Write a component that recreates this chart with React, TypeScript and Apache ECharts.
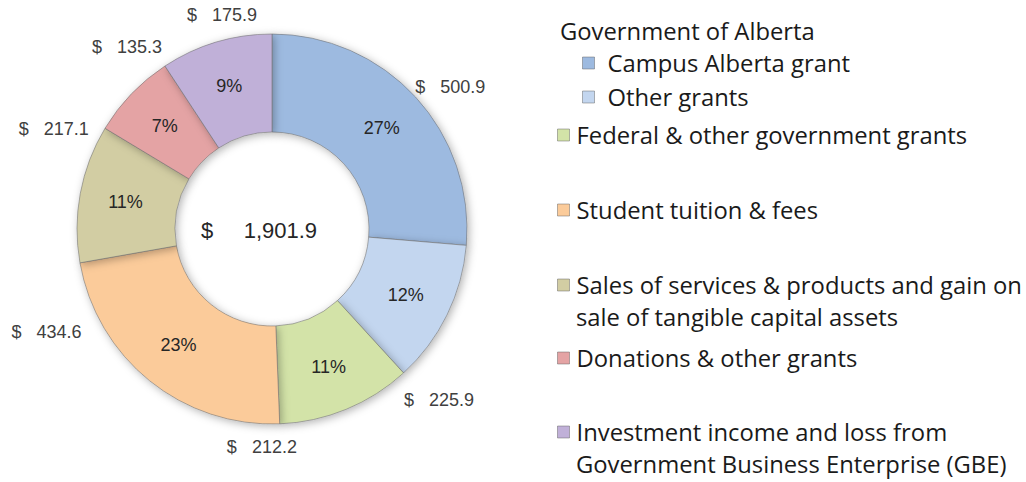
import React, { useEffect, useRef } from "react";
import * as echarts from "echarts";

const categories = [
  "Campus Alberta grant",
  "Other grants",
  "Federal & other government grants",
  "Student tuition & fees",
  "Sales of services & products and gain on sale of tangible capital assets",
  "Donations & other grants",
  "Investment income and loss from Government Business Enterprise (GBE)",
];
const legendFirstLines = [
  "Campus Alberta grant",
  "Other grants",
  "Federal & other government grants",
  "Student tuition & fees",
  "Sales of services & products and gain on",
  "Donations & other grants",
  "Investment income and loss from",
];
const legendSecondLines = ["", "", "", "", "sale of tangible capital assets", "", "Government Business Enterprise (GBE)"];
const values = [500.9, 225.9, 212.2, 434.6, 217.1, 135.3, 175.9];
const percentLabels = ["27%", "12%", "11%", "23%", "11%", "7%", "9%"];
const groupTitle = "Government of Alberta";

const colors = ["#9DBAE0", "#C3D6EF", "#D3E3A8", "#FBCB9A", "#D2CDA3", "#E4A3A4", "#C0B0D8"];

const CX = 272;
const CY = 229;
const R_IN = 97;
const R_OUT = 195;

// value-label placement (layout): angular shift from slice middle (deg) and radius (px)
const labelShift = [4, 19.5, 25, 26.5, 14, 7.6, 3.5];
const labelRadius = [228, 239, 218, 248, 240, 233, 220];

// legend layout: icon left, vertical centre of first line, extra gap before text
const legendPos = [
  { left: 582, cy: 63, gap: 8 },
  { left: 582, cy: 97, gap: 8 },
  { left: 557, cy: 135, gap: 2 },
  { left: 557, cy: 210, gap: 2 },
  { left: 557, cy: 285, gap: 2 },
  { left: 557, cy: 358, gap: 2 },
  { left: 557, cy: 432, gap: 2 },
];
const LEG_FONT = 23.8;
const LEG_FAMILY = "Open Sans";
const LINE_H = 32;
const ICON = 12;

function fmt(v: number) {
  return v.toLocaleString("en-US", { minimumFractionDigits: 1, maximumFractionDigits: 1 });
}

export default function App() {
  const ref = useRef<HTMLDivElement>(null);
  useEffect(() => {
    if (!ref.current) return;
    const chart = echarts.init(ref.current, null, { renderer: "svg" });
    const total = values.reduce((a, b) => a + b, 0);
    const midAngles: number[] = [];
    let acc = 0;
    values.forEach((v) => {
      midAngles.push(((acc + v / 2) / total) * 360);
      acc += v;
    });

    const pieData = categories.map((name, i) => ({
      name,
      value: values[i],
      itemStyle: { color: colors[i] },
    }));

    const legends = categories.map((name, i) => {
      const p = legendPos[i];
      return {
        show: true,
        data: [name],
        left: p.left,
        top: p.cy - LINE_H / 2,
        padding: 0,
        icon: "rect",
        itemWidth: ICON,
        itemHeight: ICON,
        selectedMode: false,
        itemStyle: { borderColor: "rgba(90,90,90,0.45)", borderWidth: 1 },
        formatter: () => legendFirstLines[i],
        textStyle: {
          fontFamily: LEG_FAMILY,
          fontSize: LEG_FONT,
          color: "#1a1a1a",
          lineHeight: LINE_H,
          padding: [0, 0, 0, p.gap],
        },
      };
    });

    const secondLines = legendSecondLines
      .map((t, i) =>
        t
          ? {
              type: "text",
              x: legendPos[i].left + ICON + 5 + legendPos[i].gap,
              y: legendPos[i].cy + LINE_H,
              style: {
                text: t,
                fontFamily: LEG_FAMILY,
                fontSize: LEG_FONT,
                fill: "#1a1a1a",
                align: "left",
                verticalAlign: "middle",
              },
            }
          : null
      )
      .filter(Boolean);

    chart.setOption({
      animation: false,
      backgroundColor: "#ffffff",
      title: {
        text: groupTitle,
        left: 560,
        top: 31 - 14,
        padding: 0,
        textStyle: {
          fontFamily: LEG_FAMILY,
          fontSize: LEG_FONT,
          fontWeight: "normal",
          color: "#1a1a1a",
          lineHeight: 28,
        },
      },
      legend: legends,
      graphic: [
        {
          type: "text",
          x: 259,
          y: CY + 1,
          style: {
            text: "$     " + fmt(total),
            fontFamily: "Liberation Sans, Arial",
            fontSize: 22,
            fill: "#262626",
            align: "center",
            verticalAlign: "middle",
          },
        },
        ...secondLines,
      ],
      series: [
        {
          type: "pie",
          center: [CX, CY],
          radius: [R_IN, R_OUT],
          startAngle: 90,
          clockwise: true,
          avoidLabelOverlap: false,
          data: pieData,
          itemStyle: {
            borderColor: "rgba(110,110,110,0.55)",
            borderWidth: 1,
            shadowBlur: 8,
            shadowColor: "rgba(0,0,0,0.3)",
            shadowOffsetX: 2,
            shadowOffsetY: 2,
          },
          label: {
            show: true,
            position: "inside",
            formatter: (p: any) => percentLabels[p.dataIndex],
            fontFamily: "Liberation Sans, Arial",
            fontSize: 18,
            color: "#262626",
          },
          labelLine: { show: false },
          emphasis: { disabled: true },
        },
        {
          type: "pie",
          center: [CX, CY],
          radius: [R_IN, R_OUT],
          startAngle: 90,
          clockwise: true,
          silent: true,
          avoidLabelOverlap: false,
          data: categories.map((name, i) => ({ name, value: values[i] })),
          itemStyle: { color: "rgba(0,0,0,0)", borderWidth: 0 },
          label: {
            show: true,
            position: "outside",
            formatter: (p: any) => "$   " + fmt(p.value),
            fontFamily: "Liberation Sans, Arial",
            fontSize: 18,
            color: "#404040",
          },
          labelLine: { show: false, length: 20, length2: 0 },
          labelLayout: (params: any) => {
            const i = params.dataIndex;
            const a = ((midAngles[i] + labelShift[i]) * Math.PI) / 180;
            const r = labelRadius[i];
            return {
              x: CX + r * Math.sin(a),
              y: CY - r * Math.cos(a),
              align: "center",
              verticalAlign: "middle",
            };
          },
          emphasis: { disabled: true },
        },
      ],
    });
    return () => chart.dispose();
  }, []);
  return (
    <div
      ref={ref}
      style={{ position: "fixed", left: 0, top: 0, width: 1026, height: 482 }}
    />
  );
}
